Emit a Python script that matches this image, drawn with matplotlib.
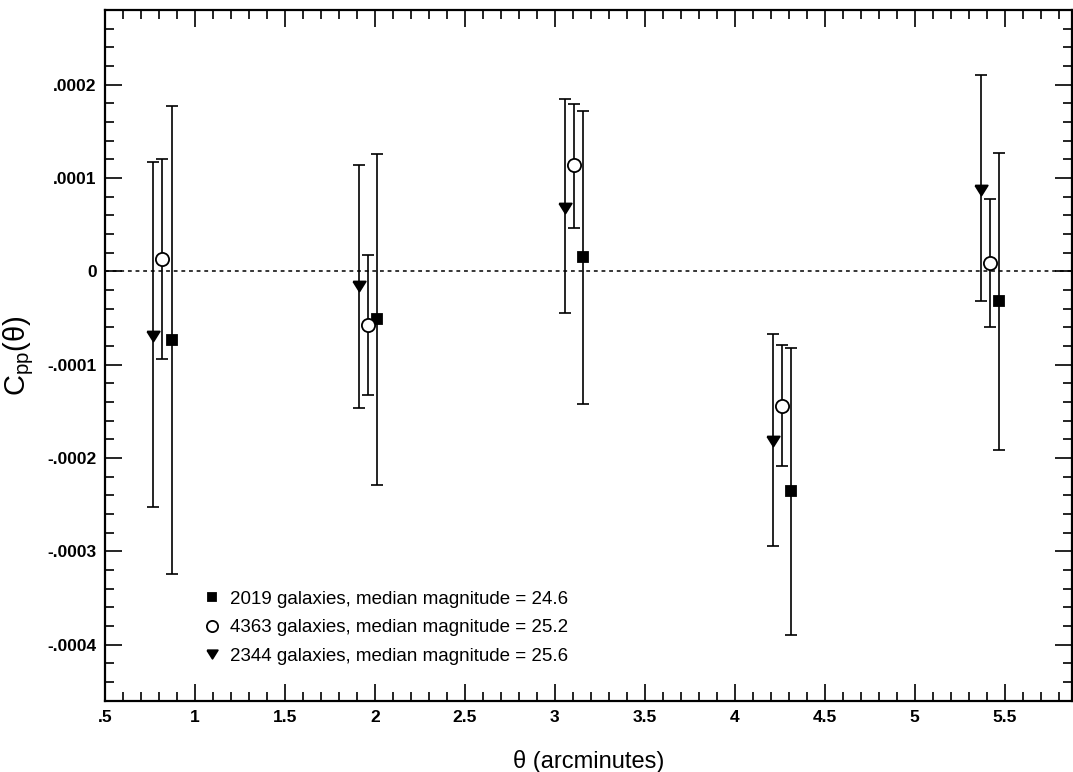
import numpy as np
import matplotlib
matplotlib.use("Agg")
import matplotlib.pyplot as plt
from matplotlib.ticker import MultipleLocator, FuncFormatter

plt.rcParams["font.family"] = ["Liberation Sans", "DejaVu Sans"]
plt.rcParams["mathtext.fontset"] = "custom"
plt.rcParams["mathtext.rm"] = "Liberation Sans"
plt.rcParams["mathtext.it"] = "Liberation Sans:italic"

# values, in units of 1e-4
sq_label = "2019 galaxies, median magnitude = 24.6"
sq_x = [0.870, 2.013, 3.157, 4.315, 5.468]
sq_y = [-0.732, -0.510, 0.150, -2.358, -0.322]
sq_hi = [1.776, 1.261, 1.715, -0.821, 1.269]
sq_lo = [-3.240, -2.290, -1.418, -3.894, -1.911]

ci_label = "4363 galaxies, median magnitude = 25.2"
ci_x = [0.819, 1.963, 3.107, 4.263, 5.417]
ci_y = [0.133, -0.571, 1.136, -1.440, 0.090]
ci_hi = [1.205, 0.179, 1.794, -0.786, 0.779]
ci_lo = [-0.936, -1.329, 0.465, -2.090, -0.596]

tr_label = "2344 galaxies, median magnitude = 25.6"
tr_x = [0.768, 1.911, 3.059, 4.213, 5.367]
tr_y = [-0.689, -0.160, 0.679, -1.822, 0.876]
tr_hi = [1.168, 1.136, 1.848, -0.671, 2.108]
tr_lo = [-2.530, -1.464, -0.446, -2.940, -0.322]

SCALE = 1e-4
tri = [(-1, 0.8), (1, 0.8), (0, -0.8), (-1, 0.8)]

fig = plt.figure(figsize=(10.73, 7.72), dpi=100)
ax = fig.add_axes([105 / 1073, 1 - 700.7 / 772, (1072 - 105) / 1073, (700.7 - 10) / 772])

ax.axhline(0, color="black", lw=1.1, ls=(0, (2.5, 2.5)), zorder=1)


def draw(x, y, lo, hi, marker, ms, face, label):
    y = np.array(y) * SCALE
    lo = np.array(lo) * SCALE
    hi = np.array(hi) * SCALE
    ax.errorbar(x, y, yerr=[y - lo, hi - y], fmt="none", ecolor="black",
                elinewidth=1.2, capsize=4.5, capthick=1.2, zorder=2)
    ax.plot(x, y, ls="none", marker=marker, ms=ms, mfc=face, mec="black",
            mew=1.3, label=label, zorder=3)


draw(sq_x, sq_y, sq_lo, sq_hi, "s", 7.0, "black", sq_label)
draw(ci_x, ci_y, ci_lo, ci_hi, "o", 9.5, "white", ci_label)
draw(tr_x, tr_y, tr_lo, tr_hi, tri, 9.0, "black", tr_label)

ax.set_xlim(0.5, 5.875)
ax.set_ylim(-0.00046, 0.00028)

ax.xaxis.set_major_locator(MultipleLocator(0.5))
ax.xaxis.set_minor_locator(MultipleLocator(0.1))
ax.yaxis.set_major_locator(MultipleLocator(0.0001))
ax.yaxis.set_minor_locator(MultipleLocator(0.00002))


def strip_zero(v, pos):
    if abs(v) < 1e-12:
        return "0"
    s = ("%g" % v) if abs(v) >= 0.01 else ("%.4f" % v)
    return s.replace("0.", ".", 1) if s.lstrip("-").startswith("0.") else s


ax.xaxis.set_major_formatter(FuncFormatter(strip_zero))
ax.yaxis.set_major_formatter(FuncFormatter(strip_zero))

ax.tick_params(which="both", direction="in", top=True, right=True, width=1.2,
               labelsize=12.5)
ax.tick_params(axis="x", pad=7)
ax.tick_params(axis="y", pad=6)
ax.tick_params(which="major", length=12)
ax.tick_params(which="minor", length=6.5)
for lab in ax.get_xticklabels() + ax.get_yticklabels():
    lab.set_fontweight("bold")
for sp in ax.spines.values():
    sp.set_linewidth(1.6)

ax.set_xlabel("θ (arcminutes)", fontsize=17, labelpad=18)
ax.set_ylabel(r"$\mathrm{C_{pp}(θ)}$", fontsize=21, labelpad=8)

ax.legend(loc="upper left", bbox_to_anchor=(0.101, 0.159), frameon=False,
          fontsize=13.5, handlelength=1.0, handletextpad=0.45,
          labelspacing=0.6, borderpad=0, borderaxespad=0, markerscale=0.85)

fig.savefig("out.png", dpi=100)
